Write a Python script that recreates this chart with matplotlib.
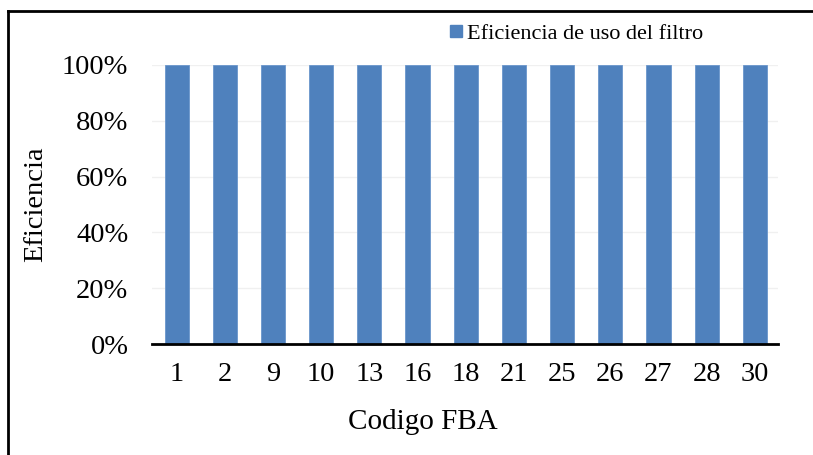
import matplotlib
matplotlib.use("Agg")
import matplotlib.pyplot as plt
from matplotlib.lines import Line2D
from matplotlib.ticker import FuncFormatter

categories = ["1", "2", "9", "10", "13", "16", "18", "21", "25", "26", "27", "28", "30"]
values = [100, 100, 100, 100, 100, 100, 100, 100, 100, 100, 100, 100, 100]
series_name = "Eficiencia de uso del filtro"
yticks = [0, 20, 40, 60, 80, 100]

plt.rcParams['font.family'] = ['Liberation Serif', 'DejaVu Serif']

fig = plt.figure(figsize=(8.13, 4.55), dpi=100)
ax = fig.add_axes([152/813, 1 - 344/455, (778-152)/813, (344-65)/455])

x = list(range(len(categories)))
ax.bar(x, values, width=0.5, color='#4f81bd', edgecolor='#6a96cc', linewidth=0.6,
       zorder=3, label=series_name)
ax.set_xlim(-0.51, 12.48)
ax.set_ylim(0, 100)
ax.set_yticks(yticks)
ax.yaxis.set_major_formatter(FuncFormatter(lambda v, p: f"{int(v)}%"))
ax.set_xticks(x)
ax.set_xticklabels(categories)
ax.grid(axis='y', color='#f0f0f0', linewidth=1, zorder=0)
for s in ['top', 'right', 'left']:
    ax.spines[s].set_visible(False)
ax.spines['bottom'].set_linewidth(2)
ax.spines['bottom'].set_color('black')
ax.spines['bottom'].set_zorder(4)
ax.tick_params(axis='both', length=0, labelsize=20.5)
ax.tick_params(axis='x', pad=13)
ax.tick_params(axis='y', pad=17)
ax.set_xlabel("Codigo FBA", fontsize=21, va='center')
ax.xaxis.set_label_coords((422.5-152)/626, (344-422)/279)
ax.set_ylabel("Eficiencia", fontsize=20.5, va='center')
ax.yaxis.set_label_coords((36-152)/626, 0.5)

handle = Line2D([0], [0], marker='s', linestyle='none', markersize=8.5,
                markerfacecolor='#4f81bd', markeredgecolor='#4f81bd')
fig.legend([handle], [series_name], loc='center left',
           bbox_to_anchor=(445/813, 1 - 34/455), frameon=False, fontsize=16,
           handletextpad=0.0, handlelength=1.0, borderaxespad=0, borderpad=0)

# figure border (top and left)
fig.add_artist(Line2D([8/813, 1], [1 - 11/455, 1 - 11/455], transform=fig.transFigure,
                      color='black', linewidth=2))
fig.add_artist(Line2D([8/813, 8/813], [0, 1 - 11/455], transform=fig.transFigure,
                      color='black', linewidth=2))

fig.savefig("out.png", dpi=100)
